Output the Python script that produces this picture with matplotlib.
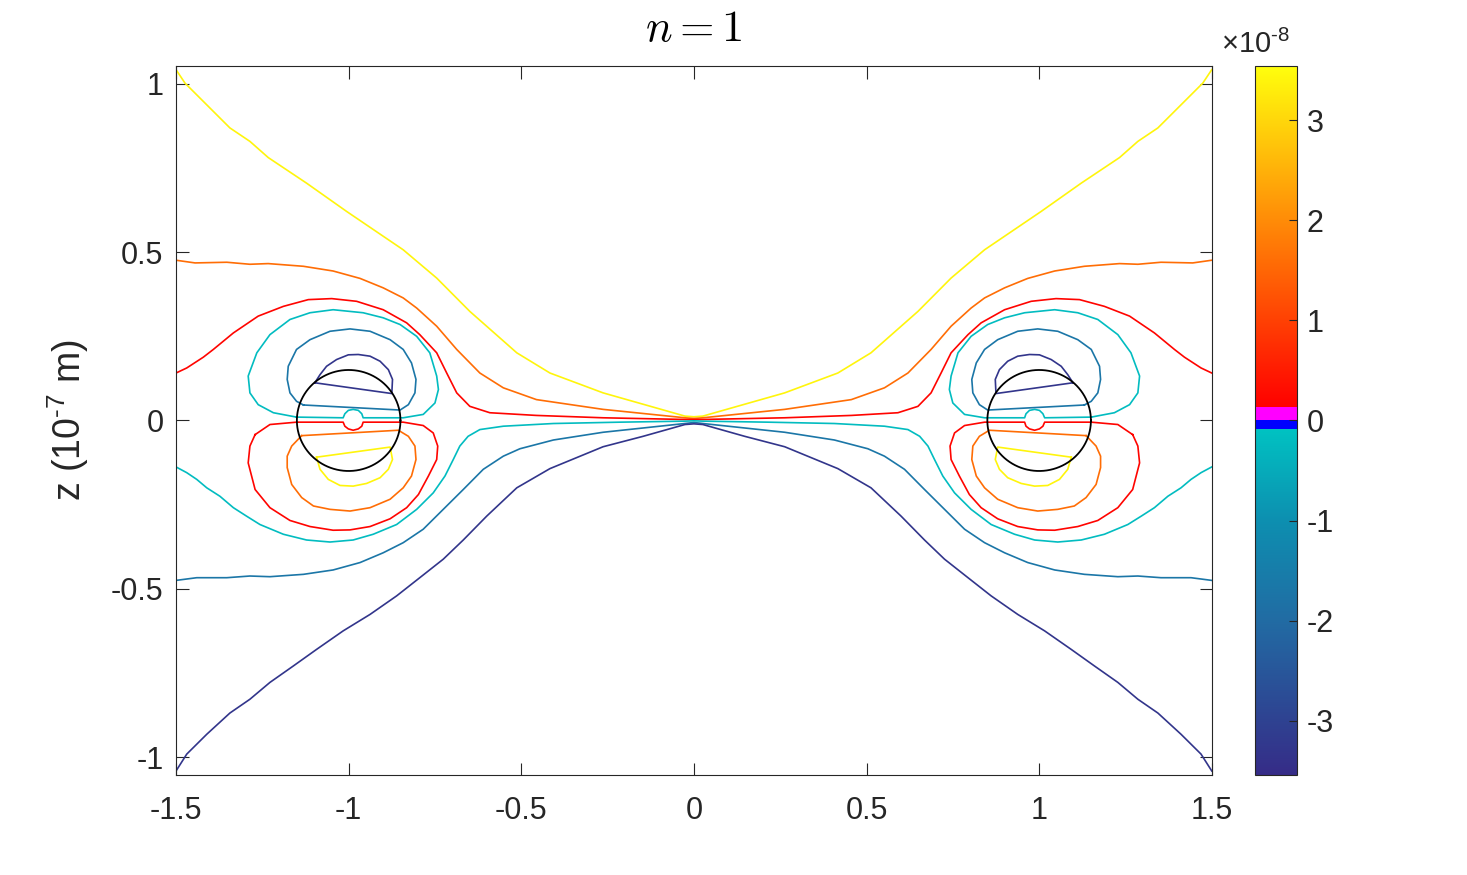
import numpy as np
import matplotlib
matplotlib.use("Agg")
import matplotlib.pyplot as plt
from matplotlib.colors import LinearSegmentedColormap, Normalize
from matplotlib.cm import ScalarMappable
from matplotlib.ticker import FuncFormatter

plt.rcParams['font.family'] = ['Liberation Sans', 'DejaVu Sans']
plt.rcParams['axes.unicode_minus'] = False
plt.rcParams['mathtext.fontset'] = 'custom'
plt.rcParams['mathtext.rm'] = 'Liberation Sans'
plt.rcParams['mathtext.it'] = 'Liberation Sans:italic'

# contour levels (field values) of the six line colours
lev_yellow = 3.4e-8
lev_orange = 1.6e-8
lev_red = 0.2e-8
lev_cyan = -0.2e-8
lev_teal = -1.7e-8
lev_blue = -3.3e-8
clim = 3.54e-8

# left half of the picture, read off in (x, z), units of 1e-7 m
# open lines running from the left edge to the centre
yel_top_x = [-1.5, -1.474, -1.344, -1.286, -1.233, -1.122, -1.006, -0.842, -0.745, -0.649, -0.513, -0.417, -0.263, -0.026, 0.0]
yel_top_z = [1.042, 1.002, 0.869, 0.829, 0.781, 0.705, 0.621, 0.507, 0.423, 0.324, 0.201, 0.141, 0.082, 0.013, 0.011]

ora_top_x = [-1.5, -1.445, -1.353, -1.286, -1.233, -1.131, -1.045, -0.967, -0.900, -0.842, -0.803, -0.745, -0.687, -0.620, -0.552, -0.456, -0.263, -0.026, 0.0]
ora_top_z = [0.476, 0.468, 0.470, 0.464, 0.466, 0.458, 0.444, 0.422, 0.394, 0.364, 0.334, 0.280, 0.211, 0.141, 0.097, 0.062, 0.033, 0.008, 0.006]

red_top_x = [-1.5, -1.469, -1.421, -1.392, -1.334, -1.262, -1.189, -1.117, -1.049, -0.977, -0.900, -0.832, -0.794, -0.745, -0.716, -0.687, -0.649, -0.591, -0.456, -0.263, -0.026, 0.0]
red_top_z = [0.141, 0.156, 0.188, 0.211, 0.260, 0.310, 0.339, 0.359, 0.362, 0.354, 0.329, 0.290, 0.255, 0.201, 0.141, 0.082, 0.042, 0.023, 0.015, 0.008, 0.003, 0.003]

cya_bot_x = [-1.5, -1.469, -1.440, -1.411, -1.373, -1.334, -1.296, -1.257, -1.189, -1.122, -1.054, -0.987, -0.929, -0.861, -0.803, -0.755, -0.721, -0.697, -0.678, -0.654, -0.620, -0.552, -0.407, -0.214, -0.026, 0.0]
cya_bot_z = [-0.138, -0.155, -0.175, -0.200, -0.225, -0.259, -0.284, -0.309, -0.338, -0.355, -0.361, -0.355, -0.338, -0.309, -0.264, -0.215, -0.165, -0.116, -0.076, -0.047, -0.027, -0.017, -0.009, -0.005, -0.002, -0.001]

tea_bot_x = [-1.5, -1.440, -1.353, -1.286, -1.228, -1.131, -1.045, -0.967, -0.900, -0.842, -0.784, -0.726, -0.668, -0.610, -0.552, -0.504, -0.407, -0.263, -0.026, 0.0]
tea_bot_z = [-0.475, -0.467, -0.467, -0.462, -0.464, -0.457, -0.444, -0.422, -0.393, -0.363, -0.323, -0.264, -0.205, -0.145, -0.106, -0.084, -0.058, -0.035, -0.009, -0.006]

blu_bot_x = [-1.5, -1.469, -1.411, -1.344, -1.286, -1.228, -1.160, -1.093, -1.016, -0.938, -0.861, -0.794, -0.726, -0.668, -0.600, -0.513, -0.417, -0.263, -0.147, -0.026, 0.0]
blu_bot_z = [-1.041, -0.991, -0.932, -0.869, -0.828, -0.778, -0.729, -0.680, -0.625, -0.576, -0.521, -0.467, -0.412, -0.355, -0.284, -0.200, -0.143, -0.078, -0.047, -0.012, -0.010]

# closed loops around the particle at x = -1
cya_loop_x = [-1.151, -1.016, -1.011, -1.001, -0.987, -0.972, -0.962, -0.958, -0.842, -0.784, -0.750, -0.740, -0.745, -0.765, -0.803, -0.851, -0.900, -0.958, -1.045, -1.112, -1.170, -1.228, -1.266, -1.291, -1.286, -1.262, -1.218, -1.151]
cya_loop_z = [0.010, 0.008, 0.020, 0.030, 0.033, 0.030, 0.020, 0.008, 0.008, 0.018, 0.052, 0.092, 0.132, 0.201, 0.250, 0.285, 0.305, 0.320, 0.329, 0.320, 0.300, 0.255, 0.201, 0.132, 0.082, 0.047, 0.023, 0.010]

tea_loop_x = [-1.131, -0.851, -0.827, -0.808, -0.805, -0.818, -0.842, -0.880, -0.938, -0.996, -1.054, -1.112, -1.151, -1.175, -1.178, -1.170, -1.151, -1.131]
tea_loop_z = [0.046, 0.031, 0.047, 0.082, 0.122, 0.171, 0.211, 0.240, 0.265, 0.272, 0.265, 0.240, 0.211, 0.161, 0.122, 0.082, 0.057, 0.046]

blu_loop_x = [-1.098, -0.875, -0.873, -0.885, -0.909, -0.938, -0.972, -1.001, -1.035, -1.064, -1.083, -1.098]
blu_loop_z = [0.112, 0.080, 0.122, 0.151, 0.176, 0.191, 0.196, 0.195, 0.181, 0.161, 0.136, 0.112]

red_loop_x = [-1.271, -1.228, -1.151, -1.016, -1.011, -1.001, -0.987, -0.972, -0.962, -0.958, -0.842, -0.784, -0.755, -0.742, -0.745, -0.769, -0.798, -0.832, -0.880, -0.938, -0.996, -1.045, -1.112, -1.170, -1.228, -1.271, -1.291, -1.286, -1.271]
red_loop_z = [-0.042, -0.012, -0.005, -0.005, -0.017, -0.025, -0.029, -0.025, -0.017, -0.005, -0.005, -0.015, -0.037, -0.076, -0.116, -0.165, -0.220, -0.259, -0.292, -0.315, -0.325, -0.326, -0.315, -0.297, -0.259, -0.205, -0.126, -0.076, -0.042]

ora_loop_x = [-1.136, -0.856, -0.827, -0.808, -0.805, -0.818, -0.842, -0.880, -0.938, -0.996, -1.054, -1.102, -1.136, -1.165, -1.178, -1.178, -1.165, -1.136]
ora_loop_z = [-0.045, -0.029, -0.047, -0.076, -0.116, -0.165, -0.200, -0.234, -0.259, -0.269, -0.264, -0.254, -0.229, -0.190, -0.140, -0.106, -0.076, -0.045]

yel_loop_x = [-1.093, -0.880, -0.873, -0.885, -0.909, -0.948, -0.987, -1.025, -1.059, -1.083, -1.093]
yel_loop_z = [-0.109, -0.079, -0.116, -0.145, -0.170, -0.187, -0.195, -0.193, -0.175, -0.145, -0.109]

# particle outlines
particle_x = [-1.0, 1.0]
particle_r = 0.15

# colour map: blue-teal below zero, red-yellow above, thin blue/magenta bands at zero
v0, v1 = -clim, clim
def pos(v):
    return (v - v0) / (v1 - v0)
cmap = LinearSegmentedColormap.from_list('field', [
    (0.0, (0.21, 0.17, 0.53)),
    (pos(-2.0e-8), (0.13, 0.42, 0.64)),
    (pos(-1.0e-8), (0.05, 0.56, 0.69)),
    (pos(-0.09e-8), (0.0, 0.76, 0.76)),
    (pos(-0.09e-8), (0.0, 0.0, 1.0)),
    (pos(0.0), (0.0, 0.0, 1.0)),
    (pos(0.0), (1.0, 0.0, 1.0)),
    (pos(0.14e-8), (1.0, 0.0, 1.0)),
    (pos(0.14e-8), (1.0, 0.0, 0.0)),
    (1.0, (1.0, 1.0, 0.05)),
], N=2048)
norm = Normalize(v0, v1)

fig = plt.figure(figsize=(14.67, 8.75), dpi=100)
ax = fig.add_axes([0.12, 0.1143, 0.706, 0.8103])
cax = fig.add_axes([0.8555, 0.1143, 0.0286, 0.8103])

lw = 1.2

def draw_open(x, z, lev):
    x = np.asarray(x); z = np.asarray(z)
    xx = np.concatenate([x, -x[::-1]])
    zz = np.concatenate([z, z[::-1]])
    ax.plot(xx, zz, color=cmap(norm(lev)), lw=lw)

def draw_loop(x, z, lev):
    x = np.asarray(x); z = np.asarray(z)
    ax.plot(x, z, color=cmap(norm(lev)), lw=lw)
    ax.plot(-x, z, color=cmap(norm(lev)), lw=lw)

draw_open(yel_top_x, yel_top_z, lev_yellow)
draw_open(ora_top_x, ora_top_z, lev_orange)
draw_open(red_top_x, red_top_z, lev_red)
draw_open(cya_bot_x, cya_bot_z, lev_cyan)
draw_open(tea_bot_x, tea_bot_z, lev_teal)
draw_open(blu_bot_x, blu_bot_z, lev_blue)

draw_loop(cya_loop_x, cya_loop_z, lev_cyan)
draw_loop(tea_loop_x, tea_loop_z, lev_teal)
draw_loop(blu_loop_x, blu_loop_z, lev_blue)
draw_loop(red_loop_x, red_loop_z, lev_red)
draw_loop(ora_loop_x, ora_loop_z, lev_orange)
draw_loop(yel_loop_x, yel_loop_z, lev_yellow)

t = np.linspace(0, 2 * np.pi, 200)
for px in particle_x:
    ax.plot(px + particle_r * np.cos(t), particle_r * np.sin(t), color='black', lw=1.3)

ax.set_xlim(-1.5, 1.5)
ax.set_ylim(-1.053, 1.053)
ax.set_xticks([-1.5, -1, -0.5, 0, 0.5, 1, 1.5])
ax.set_yticks([-1, -0.5, 0, 0.5, 1])
fmt = FuncFormatter(lambda v, p: '%g' % v)
ax.xaxis.set_major_formatter(fmt)
ax.yaxis.set_major_formatter(fmt)
ax.tick_params(direction='in', top=True, right=True, length=9, width=0.8,
               labelsize=22, color='#262626', labelcolor='#262626')
ax.tick_params(axis='x', pad=15)
ax.tick_params(axis='y', pad=9)
for s in ax.spines.values():
    s.set_color('#262626')
    s.set_linewidth(0.8)

ax.set_ylabel('z (10$^{\\text{-}7}$ m)', fontsize=27, color='#262626', labelpad=14)
ax.set_title('$n = 1$', fontsize=32, math_fontfamily='cm', pad=18)

sm = ScalarMappable(norm=norm, cmap=cmap)
cb = fig.colorbar(sm, cax=cax)
cb.set_ticks([-3e-8, -2e-8, -1e-8, 0, 1e-8, 2e-8, 3e-8])
cb.ax.yaxis.set_major_formatter(FuncFormatter(lambda v, p: '%g' % round(v / 1e-8)))
cb.ax.tick_params(direction='in', length=6, width=0.8, labelsize=22, pad=7,
                  color='#262626', labelcolor='#262626')
cb.outline.set_edgecolor('#262626')
cb.outline.set_linewidth(0.8)
cax.text(0.0, 1.01, '$\\times$10$^{\\text{-}8}$', transform=cax.transAxes,
         fontsize=21, ha='center', va='bottom', color='#262626')

fig.savefig('out.png', dpi=100)
